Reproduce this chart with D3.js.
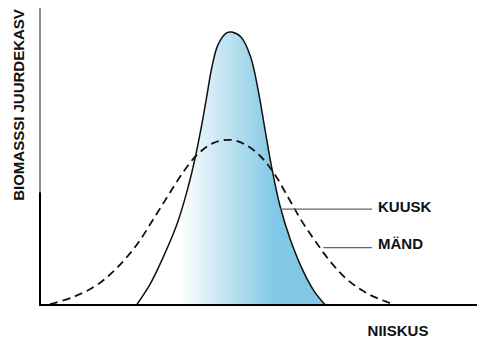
<!DOCTYPE html>
<html lang="et">
<head>
    <meta charset="utf-8">
    <title>Biomassi juurdekasv ja niiskus</title>
    <script src="https://d3js.org/d3.v7.min.js"></script>
    <style>
        body {
            margin: 0;
            background: #fff;
        }
        text {
            font-family: "Liberation Sans", Arial, sans-serif;
            font-weight: bold;
            font-size: 15px;
            fill: #111;
        }
    </style>
</head>
<body>
    <svg id="chart" width="477" height="339"></svg>

    <script>
        // moisture (0-100) and relative growth (0-100)
        const kuuskX = [22.1, 25.2, 28.1, 31.3, 33.6, 35.5, 37.0, 38.1, 39.3, 40.7, 42.7, 43.9, 46.0, 48.2, 49.9, 51.5, 53.0, 54.9, 57.2, 60.2, 62.8, 65.3];
        const kuuskY = [0, 7.0, 15.8, 27.0, 38.1, 49.5, 60.6, 69.7, 79.8, 87.5, 91.6, 91.9, 90.2, 83.5, 72.5, 59.0, 46.5, 33.5, 22.4, 11.5, 4.5, 0];

        const mandX = [2.3, 7.6, 13.0, 17.6, 22.1, 25.9, 29.3, 32.7, 35.9, 39.6, 43.5, 47.0, 50.5, 53.8, 56.8, 59.8, 63.0, 66.5, 70.5, 75.5, 81.0];
        const mandY = [0.3, 2.7, 6.7, 12.5, 20.2, 28.8, 36.8, 44.6, 50.5, 54.5, 55.6, 54.0, 50.0, 43.8, 36.2, 28.5, 21.5, 14.5, 8.3, 3.4, 0.2];

        const seriesNames = ["KUUSK", "MÄND"];
        const xTitle = "NIISKUS";
        const yTitle = "BIOMASSSI JUURDEKASV";

        const svg = d3.select("#chart");

        const x = d3.scaleLinear().domain([0, 100]).range([40, 477]);
        const y = d3.scaleLinear().domain([0, 100]).range([305, 8]);

        const kuusk = kuuskX.map((v, i) => ({ x: v, y: kuuskY[i] }));
        const mand = mandX.map((v, i) => ({ x: v, y: mandY[i] }));

        // gradient for the spruce area: white on the left to blue on the right
        const defs = svg.append("defs");
        const grad = defs.append("linearGradient")
            .attr("id", "kuusk-fill")
            .attr("gradientUnits", "userSpaceOnUse")
            .attr("x1", x(32)).attr("x2", x(54))
            .attr("y1", 0).attr("y2", 0);
        grad.append("stop").attr("offset", "0%").attr("stop-color", "#ffffff");
        grad.append("stop").attr("offset", "45%").attr("stop-color", "#c4e5f2");
        grad.append("stop").attr("offset", "100%").attr("stop-color", "#80c8e5");

        const curve = d3.curveCatmullRom.alpha(0.5);

        const area = d3.area()
            .x(d => x(d.x))
            .y0(y(0))
            .y1(d => y(d.y))
            .curve(curve);

        const line = d3.line()
            .x(d => x(d.x))
            .y(d => y(d.y))
            .curve(curve);

        svg.append("path")
            .datum(kuusk)
            .attr("d", area)
            .attr("fill", "url(#kuusk-fill)");

        svg.append("path")
            .datum(mand)
            .attr("d", line)
            .attr("fill", "none")
            .attr("stroke", "#111")
            .attr("stroke-width", 1.8)
            .attr("stroke-dasharray", "8,5");

        svg.append("path")
            .datum(kuusk)
            .attr("d", line)
            .attr("fill", "none")
            .attr("stroke", "#111")
            .attr("stroke-width", 1.5);

        // axes (plain lines, no ticks)
        svg.append("line")
            .attr("x1", x(0)).attr("x2", x(0))
            .attr("y1", y(100)).attr("y2", y(38))
            .attr("stroke", "#444").attr("stroke-width", 1.2);
        svg.append("line")
            .attr("x1", x(0)).attr("x2", x(0))
            .attr("y1", y(38)).attr("y2", y(0) + 1)
            .attr("stroke", "#000").attr("stroke-width", 2);
        svg.append("line")
            .attr("x1", x(0) - 1).attr("x2", x(100))
            .attr("y1", y(0)).attr("y2", y(0))
            .attr("stroke", "#000").attr("stroke-width", 2);

        // leader lines and labels
        const labelX = 378;
        const leaders = [
            { name: seriesNames[0], from: 54.9, at: 32.3, textY: 212 },
            { name: seriesNames[1], from: 64.8, at: 19.3, textY: 249 }
        ];
        leaders.forEach(l => {
            svg.append("line")
                .attr("x1", x(l.from)).attr("x2", labelX - 6)
                .attr("y1", y(l.at)).attr("y2", y(l.at))
                .attr("stroke", "#666").attr("stroke-width", 1.3);
            svg.append("text")
                .attr("x", labelX)
                .attr("y", l.textY)
                .text(l.name);
        });

        svg.append("text")
            .attr("x", 398)
            .attr("y", 336)
            .attr("text-anchor", "middle")
            .text(xTitle);

        svg.append("text")
            .attr("transform", "translate(23.5,105) rotate(-90)")
            .attr("text-anchor", "middle")
            .text(yTitle);
    </script>
</body>
</html>
